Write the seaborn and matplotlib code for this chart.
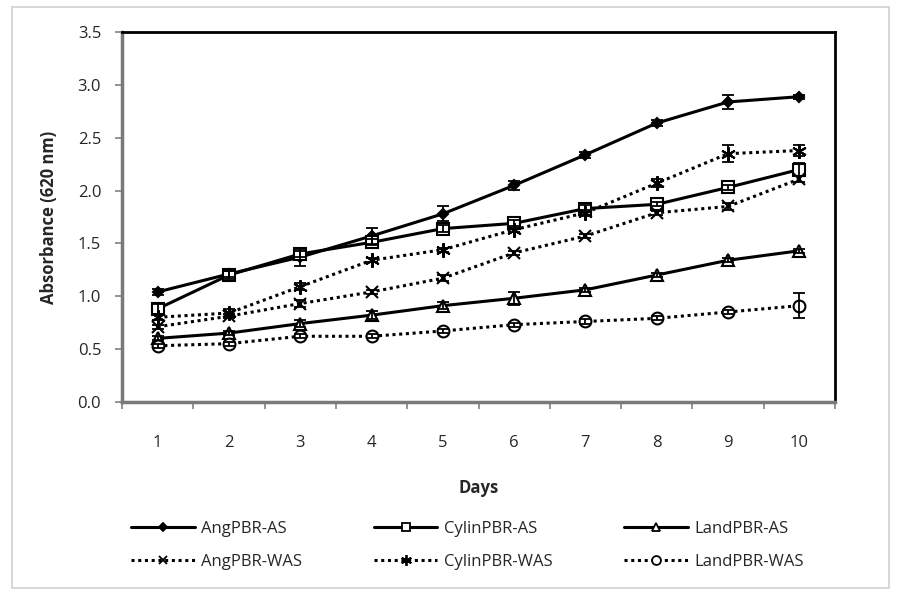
import numpy as np
import pandas as pd
import matplotlib
matplotlib.use("Agg")
import matplotlib.pyplot as plt
import seaborn as sns
from matplotlib.lines import Line2D
from matplotlib.patches import Rectangle

# values
days = [1, 2, 3, 4, 5, 6, 7, 8, 9, 10]

ang_as = [1.04, 1.21, 1.37, 1.57, 1.78, 2.05, 2.34, 2.64, 2.84, 2.89]
cylin_as = [0.88, 1.20, 1.40, 1.51, 1.64, 1.69, 1.83, 1.87, 2.03, 2.20]
land_as = [0.60, 0.65, 0.74, 0.82, 0.91, 0.98, 1.06, 1.20, 1.34, 1.43]
ang_was = [0.71, 0.81, 0.93, 1.04, 1.17, 1.41, 1.57, 1.79, 1.85, 2.11]
cylin_was = [0.80, 0.84, 1.09, 1.34, 1.44, 1.63, 1.79, 2.07, 2.35, 2.38]
land_was = [0.53, 0.55, 0.62, 0.62, 0.67, 0.73, 0.76, 0.79, 0.85, 0.91]

ang_as_err = [0.03, 0.03, 0.08, 0.08, 0.07, 0.04, 0.03, 0.03, 0.07, 0.02]
cylin_as_err = [0.05, 0.04, 0.03, 0.03, 0.03, 0.03, 0.03, 0.02, 0.02, 0.06]
land_as_err = [0.02, 0.02, 0.03, 0.04, 0.03, 0.06, 0.02, 0.02, 0.02, 0.02]
ang_was_err = [0.02, 0.02, 0.03, 0.02, 0.03, 0.02, 0.02, 0.02, 0.03, 0.03]
cylin_was_err = [0.03, 0.04, 0.03, 0.02, 0.02, 0.02, 0.03, 0.04, 0.08, 0.05]
land_was_err = [0.02, 0.02, 0.02, 0.02, 0.02, 0.02, 0.02, 0.02, 0.02, 0.12]

labels = ["AngPBR-AS", "CylinPBR-AS", "LandPBR-AS",
          "AngPBR-WAS", "CylinPBR-WAS", "LandPBR-WAS"]

sns.set_theme(style="white")
plt.rcParams['font.family'] = ['Open Sans', 'DejaVu Sans']

fig = plt.figure(figsize=(9.01, 5.89), dpi=100)
ax = fig.add_axes([122 / 901, 1 - 401.7 / 589, (835 - 122) / 901, (401.7 - 32.3) / 589])

dotted = (0, (1, 1.2))
series = [
    (ang_as, ang_as_err, "AngPBR-AS", "-", "D", "black", 5.5),
    (cylin_as, cylin_as_err, "CylinPBR-AS", "-", "s", "white", 8.5),
    (land_as, land_as_err, "LandPBR-AS", "-", "^", "white", 8.5),
    (ang_was, ang_was_err, "AngPBR-WAS", dotted, "x", "black", 8.5),
    (cylin_was, cylin_was_err, "CylinPBR-WAS", dotted, (6, 2, 0), "black", 10.5),
    (land_was, land_was_err, "LandPBR-WAS", dotted, "o", "white", 8.5),
]

handles = {}
for vals, err, name, ls, mk, mfc, ms in series:
    df = pd.DataFrame({"Days": days, "Absorbance": vals})
    sns.lineplot(data=df, x="Days", y="Absorbance", ax=ax, color="black",
                 linestyle=ls, linewidth=2.2, marker=mk, markersize=ms,
                 markerfacecolor=mfc, markeredgecolor="black",
                 markeredgewidth=1.5, legend=False, zorder=3)
    ax.errorbar(days, vals, yerr=err, fmt="none", ecolor="black",
                elinewidth=1.3, capsize=4, capthick=1.3, zorder=4)
    handles[name] = Line2D([], [], color="black", linestyle=ls, linewidth=2.2,
                           marker=mk, markersize=ms * 0.75, markerfacecolor=mfc,
                           markeredgecolor="black", markeredgewidth=1.3)

ax.set_xlim(0.5, 10.5)
ax.set_ylim(0, 3.5)
ax.set_yticks(np.arange(0, 3.51, 0.5))
ax.set_yticklabels([f"{v:.1f}" for v in np.arange(0, 3.51, 0.5)])
ax.set_xticks(days)
ax.set_xticks(np.arange(0.5, 10.6, 1), minor=True)
ax.tick_params(axis="x", which="major", length=0, pad=24, labelsize=12)
ax.tick_params(axis="x", which="minor", length=5, width=1.2, direction="out",
               color="#808080", bottom=True)
ax.tick_params(axis="y", length=5, width=1.2, direction="out", color="#808080",
               left=True, pad=10, labelsize=12)

ax.set_xlabel("Days", fontsize=12, fontweight="bold", labelpad=20)
ax.set_ylabel("Absorbance (620 nm)", fontsize=12, fontweight="bold", labelpad=14)

for side in ["left", "bottom"]:
    ax.spines[side].set_color("#7a7a7a")
    ax.spines[side].set_linewidth(2.5)
for side in ["top", "right"]:
    ax.spines[side].set_color("black")
    ax.spines[side].set_linewidth(2.0)

order = ["AngPBR-AS", "AngPBR-WAS", "CylinPBR-AS", "CylinPBR-WAS",
         "LandPBR-AS", "LandPBR-WAS"]
fig.legend([handles[n] for n in order], order, ncol=3, loc="center",
           bbox_to_anchor=(0.519, 1 - 545.5 / 589), frameon=False, fontsize=12,
           handlelength=3.8, handletextpad=0.4, columnspacing=4.3,
           labelspacing=1.0)

fig.patches.append(Rectangle((12 / 901, 1 / 589), 877 / 901, 581 / 589,
                             transform=fig.transFigure, fill=False,
                             edgecolor="#d0d0d0", linewidth=1.2))

fig.savefig("out.png", dpi=100)
